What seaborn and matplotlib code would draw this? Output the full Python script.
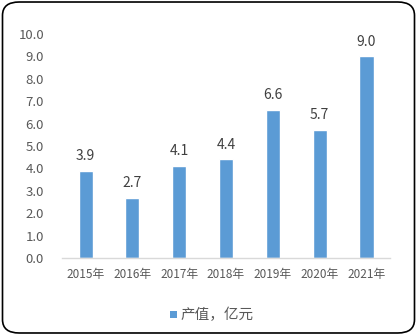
import matplotlib
matplotlib.use("Agg")
import matplotlib.pyplot as plt
from matplotlib.patches import FancyBboxPatch, Rectangle
import seaborn as sns
import pandas as pd

years = ["2015年", "2016年", "2017年", "2018年", "2019年", "2020年", "2021年"]
values = [3.9, 2.7, 4.1, 4.4, 6.6, 5.7, 9.0]
series_name = "产值，亿元"
yticks = [0, 1, 2, 3, 4, 5, 6, 7, 8, 9, 10]

sns.set_theme(style="white")
plt.rcParams["font.family"] = ["Noto Sans CJK SC", "DejaVu Sans"]

df = pd.DataFrame({"year": years, "value": values})

fig = plt.figure(figsize=(4.17, 3.35), dpi=100)
ax = fig.add_axes([0.149, 0.2299, 0.786, 0.6686])

sns.barplot(data=df, x="year", y="value", color="#5B9BD5", width=0.3,
            saturation=1, ax=ax)

ax.set_ylim(0, 10)
ax.set_xlim(-0.5, len(years) - 0.5)
ax.set_yticks(yticks)
ax.set_yticklabels([f"{v:.1f}" for v in yticks])
ax.set_xlabel("")
ax.set_ylabel("")
ax.tick_params(axis="y", length=0, pad=13, labelsize=9.5, labelcolor="#595959")
ax.tick_params(axis="x", length=0, pad=7, labelsize=8.5, labelcolor="#595959")

for s in ["top", "right", "left"]:
    ax.spines[s].set_visible(False)
ax.spines["bottom"].set_color("#D9D9D9")
ax.spines["bottom"].set_linewidth(1)

for i, v in enumerate(values):
    ax.text(i, v + 0.35, f"{v:.1f}", ha="center", va="bottom",
            fontsize=10, color="#404040")

# legend below the plot
fig.patches.append(Rectangle((0.408, 0.051), 0.016, 0.020, transform=fig.transFigure,
                             facecolor="#5B9BD5", edgecolor="none"))
fig.text(0.433, 0.060, series_name, ha="left", va="center", fontsize=10.5, color="#595959")

# rounded chart frame
fig.patches.append(FancyBboxPatch((0.006, 0.006), 0.988, 0.988,
                                  boxstyle="round,pad=0,rounding_size=0.04",
                                  transform=fig.transFigure, facecolor="none",
                                  edgecolor="black", linewidth=1.2))

fig.savefig("out.png", dpi=100)
